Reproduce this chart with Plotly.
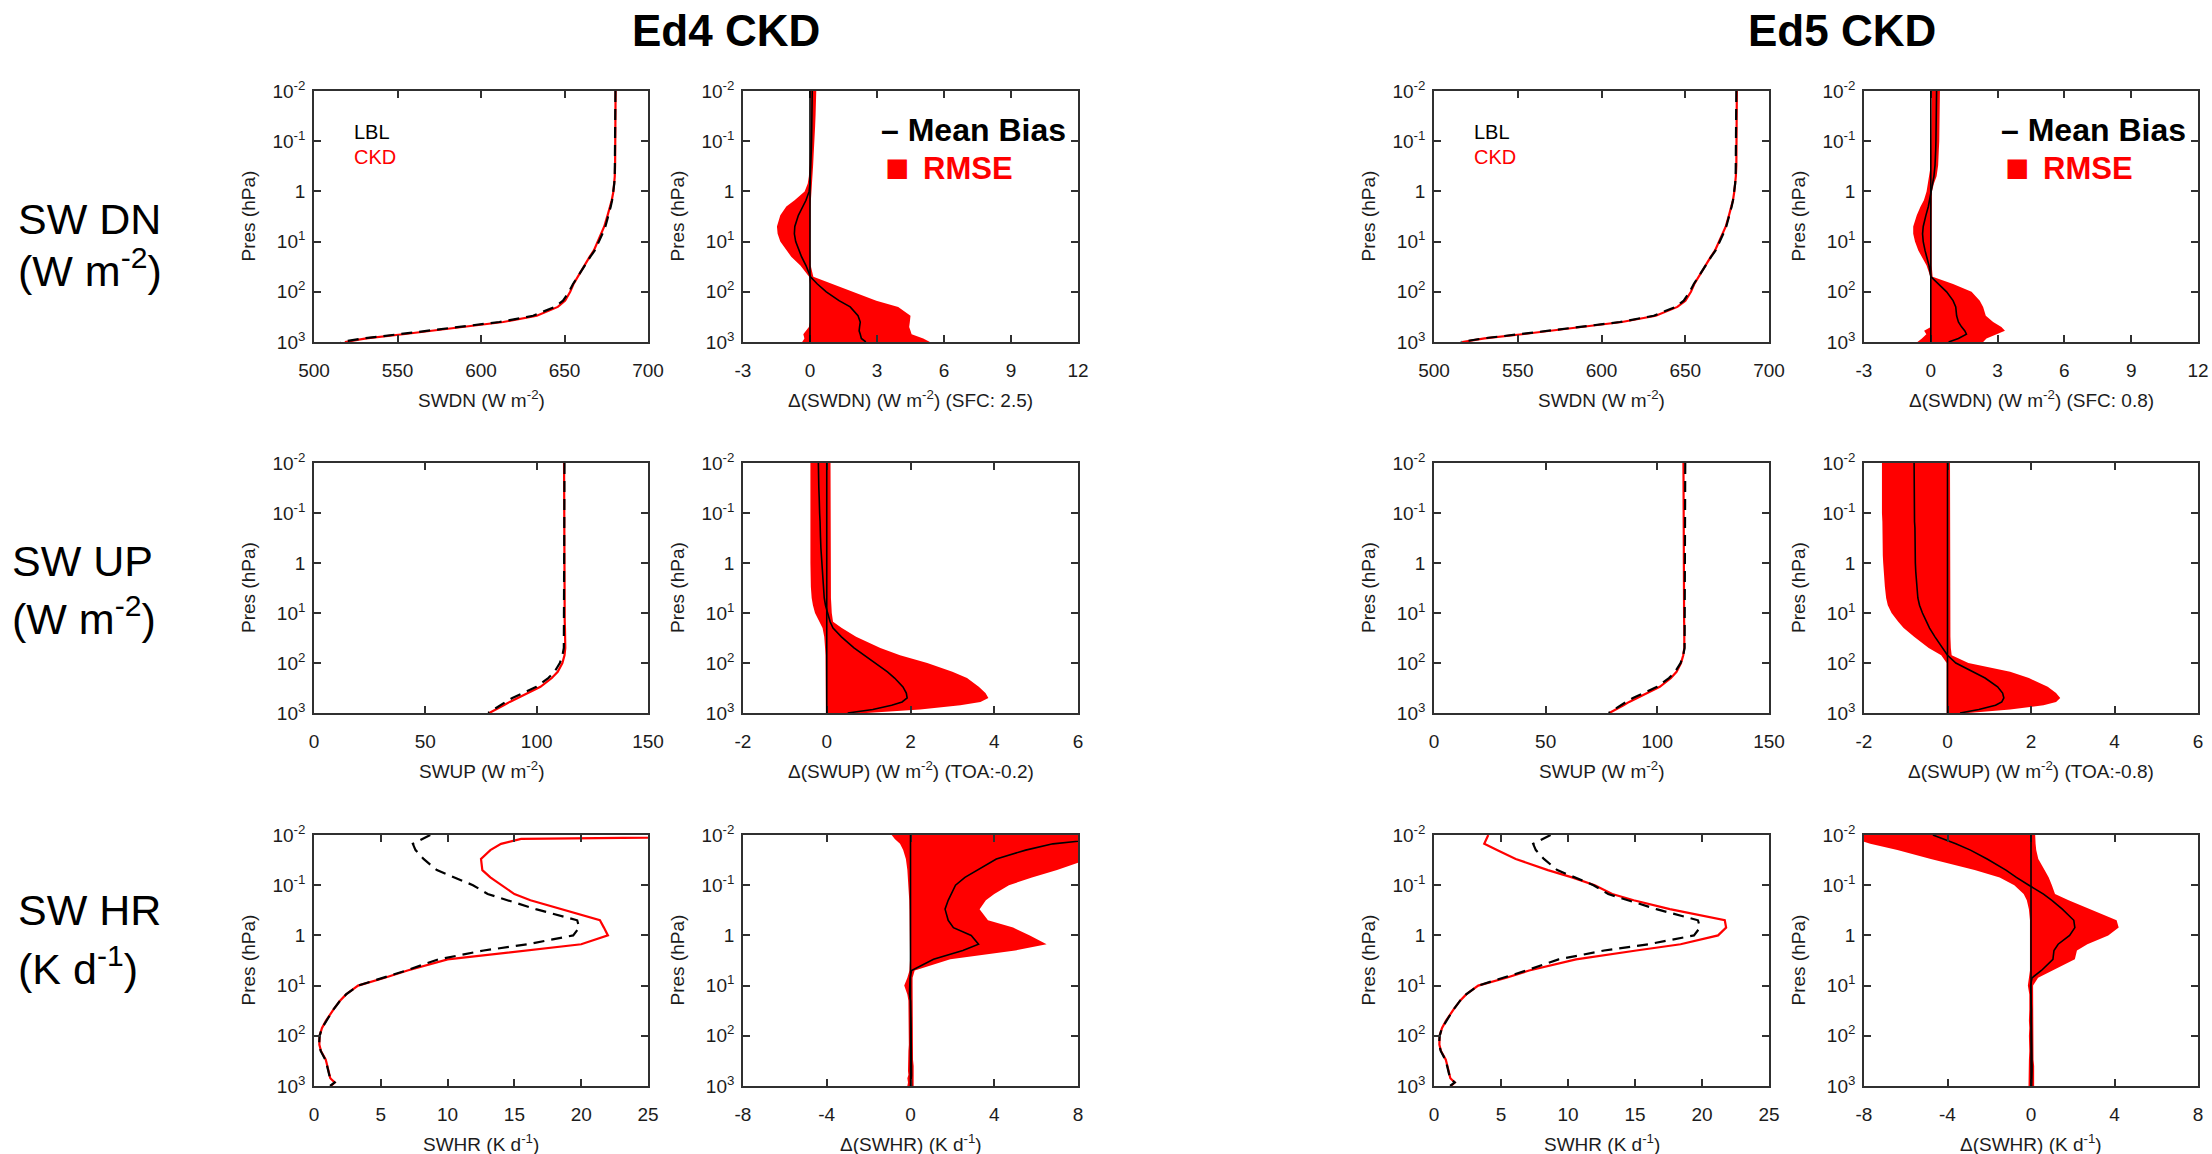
import plotly.graph_objects as go

W, H = 2212, 1154
FONT = "Liberation Sans, Arial, Helvetica, sans-serif"
RED = "#ff0000"
INK = "#1c1c1c"
FRAME = "#303030"

# pressure levels (hPa), top of atmosphere -> surface
pres = [0.01, 0.012, 0.015, 0.02, 0.03, 0.05, 0.07, 0.1, 0.15, 0.2, 0.3, 0.5, 0.7,
        1, 1.5, 2, 3, 5, 7, 10, 15, 20, 30, 50, 70, 100, 150, 200, 300, 400, 500,
        600, 700, 850, 1000]

# ---------------- SW downward flux (W m-2) ----------------
swdn_lbl = [680.5, 680.5, 680.5, 680.5, 680.5, 680.5, 680.5, 680.5, 680.4, 680.4, 680.3,
            680.1, 679.8, 679.3, 678.5, 677.7, 676.3, 674.5, 672.7, 670.7, 668.1, 665.5,
            662.1, 658.1, 655.1, 652.7, 649.1, 644.2, 631.2, 611.0, 588.0, 567.0, 551.0,
            529.0, 516.0]
swdn_ckd_ed4 = [680.6, 680.6, 680.6, 680.6, 680.6, 680.6, 680.6, 680.6, 680.5, 680.5, 680.3,
                680.1, 679.8, 679.3, 678.3, 677.4, 675.8, 673.8, 672.0, 670.1, 667.6, 665.1,
                661.9, 658.1, 655.4, 653.4, 650.4, 646.0, 633.4, 613.3, 590.2, 569.2, 553.3,
                531.3, 518.5]
swdn_ckd_ed5 = [680.8, 680.8, 680.8, 680.8, 680.8, 680.7, 680.7, 680.7, 680.6, 680.6, 680.5,
                680.2, 679.9, 679.3, 678.5, 677.6, 676.1, 674.2, 672.3, 670.4, 667.8, 665.3,
                662.0, 658.1, 655.4, 653.4, 650.1, 645.3, 632.4, 612.2, 589.4, 568.5, 552.6,
                530.2, 516.8]
dswdn_bias_ed4 = [0.1, 0.1, 0.1, 0.1, 0.1, 0.09, 0.08, 0.07, 0.06, 0.05, 0.04, 0.02, 0.0,
                  -0.04, -0.18, -0.32, -0.52, -0.68, -0.7, -0.64, -0.5, -0.38, -0.18, 0.02,
                  0.33, 0.73, 1.3, 1.8, 2.15, 2.25, 2.22, 2.2, 2.25, 2.3, 2.5]
dswdn_lo_ed4 = [0.03, 0.03, 0.03, 0.03, 0.03, 0.03, 0.02, 0.02, 0.01, 0.0, -0.02, -0.05, -0.1,
                -0.24, -0.69, -1.06, -1.33, -1.48, -1.45, -1.33, -1.06, -0.84, -0.43, -0.04,
                0.0, 0.0, 0.0, 0.0, 0.0, 0.0, -0.05, -0.2, -0.3, -0.25, -0.35]
dswdn_hi_ed4 = [0.28, 0.28, 0.27, 0.26, 0.25, 0.23, 0.22, 0.2, 0.18, 0.16, 0.14, 0.1, 0.07,
                0.05, 0.04, 0.03, 0.02, 0.02, 0.02, 0.02, 0.02, 0.02, 0.03, 0.15,
                1.03, 1.93, 2.97, 3.95, 4.5, 4.47, 4.44, 4.5, 4.55, 5.07, 5.37]
dswdn_bias_ed5 = [0.26, 0.26, 0.26, 0.25, 0.25, 0.24, 0.24, 0.23, 0.22, 0.21, 0.19, 0.14, 0.08,
                  0.04, -0.04, -0.11, -0.22, -0.34, -0.37, -0.34, -0.26, -0.19, -0.08, 0.0,
                  0.33, 0.71, 1.0, 1.12, 1.16, 1.24, 1.38, 1.53, 1.6, 1.24, 0.8]
dswdn_lo_ed5 = [0.04, 0.04, 0.04, 0.04, 0.04, 0.03, 0.02, 0.02, 0.01, 0.01, 0.0, -0.07, -0.13,
                -0.19, -0.31, -0.46, -0.63, -0.79, -0.79, -0.71, -0.56, -0.41, -0.19, -0.02,
                0.0, 0.0, 0.0, 0.0, 0.0, 0.0, 0.0, -0.3, -0.2, -0.4, -0.6]
dswdn_hi_ed5 = [0.41, 0.41, 0.41, 0.4, 0.4, 0.39, 0.39, 0.38, 0.36, 0.35, 0.33, 0.26, 0.14,
                0.05, 0.04, 0.04, 0.04, 0.04, 0.04, 0.04, 0.04, 0.04, 0.04, 0.08,
                1.0, 1.83, 2.2, 2.35, 2.47, 2.8, 3.17, 3.33, 2.95, 2.5, 2.35]

# ---------------- SW upward flux (W m-2) ----------------
swup_lbl = [112.5] * 22 + [112.45, 112.2, 111.6, 110.4, 108.0, 105.2, 99.9, 93.9, 89.1,
                           86.1, 83.7, 80.7, 78.2]
swup_ckd_ed4 = [112.3] * 14 + [112.4] * 5 + [112.5, 112.6, 112.7, 112.8, 112.85, 112.5,
                                            111.55, 109.45, 106.8, 101.7, 95.8, 91.0,
                                            87.9, 85.2, 81.7, 78.7]
swup_ckd_ed5 = [111.7] * 14 + [111.75] * 3 + [111.8, 111.85, 111.9, 112.0, 112.07, 112.15,
                                             112.08, 111.6, 110.6, 108.6, 106.1, 101.1,
                                             95.2, 90.45, 87.4, 84.85, 81.45, 78.5]
dswup_bias_ed4 = [-0.2, -0.2, -0.2, -0.19, -0.19, -0.18, -0.18, -0.17, -0.16, -0.16, -0.15,
                  -0.14, -0.13, -0.12, -0.11, -0.1, -0.08, -0.06, -0.03, 0.02, 0.08, 0.15,
                  0.35, 0.65, 0.9, 1.15, 1.45, 1.62, 1.82, 1.9, 1.92, 1.8, 1.55, 1.1, 0.5]
dswup_lo_ed4 = [-0.39] * 16 + [-0.38, -0.36, -0.33, -0.28, -0.18, -0.1, -0.06, -0.04,
                               -0.03] + [-0.02] * 10
dswup_hi_ed4 = [0.09] * 13 + [0.1] * 5 + [0.11, 0.12, 0.15, 0.36, 0.7, 1.28, 1.75, 2.4, 3.0,
                                          3.35, 3.63, 3.79, 3.86, 3.67, 3.19, 2.23, 0.95]
dswup_bias_ed5 = [-0.8] * 6 + [-0.79] * 3 + [-0.78] * 3 + [-0.77] * 2 + [
    -0.76, -0.75, -0.74, -0.71, -0.67, -0.6, -0.5, -0.43, -0.3, -0.12, 0.0, 0.2, 0.62, 0.9,
    1.2, 1.32, 1.35, 1.3, 1.15, 0.75, 0.3]
dswup_lo_ed5 = [-1.57] * 8 + [-1.56] * 3 + [-1.55] * 2 + [
    -1.54, -1.53, -1.52, -1.5, -1.47, -1.43, -1.34, -1.18, -1.05, -0.8, -0.45, -0.15] + [-0.02] * 10
dswup_hi_ed5 = [0.06] * 21 + [0.07, 0.07, 0.08, 0.1, 0.5, 1.5, 1.95, 2.4, 2.6, 2.7, 2.6, 2.3,
                              1.5, 0.5]

# ---------------- SW heating rate (K d-1) ----------------
swhr_lbl = [8.7, 8.1, 7.4, 7.6, 8.2, 9.2, 10.5, 11.9, 13.0, 14.5, 16.6, 19.7, 19.85, 19.4,
            16.0, 12.7, 9.3, 6.9, 5.2, 3.3, 2.4, 1.95, 1.45, 0.9, 0.6, 0.42, 0.38, 0.5, 0.85,
            0.98, 1.05, 1.15, 1.2, 1.55, 1.2]
swhr_ckd_ed4 = [45.0, 15.5, 14.0, 13.2, 12.5, 12.6, 13.2, 14.0, 15.0, 16.2, 18.5, 21.4, 21.7,
                22.0, 20.0, 16.0, 10.0, 7.0, 5.3, 3.3, 2.4, 1.95, 1.45, 0.9, 0.6, 0.42, 0.4,
                0.52, 0.88, 1.0, 1.08, 1.18, 1.22, 1.55, 1.25]
swhr_ckd_ed5 = [4.05, 3.9, 3.75, 4.7, 6.1, 8.5, 10.3, 12.0, 13.3, 14.9, 17.6, 21.7, 21.8,
                21.2, 18.4, 15.1, 10.6, 7.1, 5.4, 3.3, 2.4, 1.95, 1.45, 0.9, 0.6, 0.42, 0.4,
                0.52, 0.88, 1.0, 1.08, 1.18, 1.22, 1.55, 1.25]
dswhr_bias_ed4 = [20.0, 9.0, 6.8, 5.5, 4.1, 3.2, 2.6, 2.15, 1.95, 1.8, 1.65, 1.8, 2.05, 2.9,
                  3.25, 2.5, 1.1, 0.05, -0.02, -0.05, -0.05, 0.0, 0.02, 0.03, 0.03, 0.03,
                  0.04, 0.04, 0.05, 0.06, 0.05, 0.05, 0.04, 0.05, 0.05]
dswhr_lo_ed4 = [-0.9, -0.75, -0.5, -0.35, -0.22, -0.15, -0.12, -0.1, -0.08, -0.06, -0.05,
                -0.03, -0.02, -0.02, -0.02, -0.02, -0.02, -0.05, -0.15, -0.3, -0.15, -0.1,
                -0.08, -0.08, -0.1, -0.08, -0.08, -0.1, -0.1, -0.12, -0.12, -0.1, -0.15,
                -0.12, -0.15]
dswhr_hi_ed4 = [40.0, 30.0, 20.0, 14.0, 8.5, 7.0, 5.8, 4.7, 4.0, 3.6, 3.3, 3.7, 4.9, 5.7,
                6.5, 5.0, 1.9, 0.2, 0.1, 0.1, 0.1, 0.1, 0.1, 0.1, 0.1, 0.1, 0.12, 0.12, 0.12,
                0.15, 0.15, 0.15, 0.12, 0.12, 0.15]
dswhr_bias_ed5 = [-4.7, -4.2, -3.6, -2.9, -2.1, -1.2, -0.7, -0.1, 0.6, 1.0, 1.5, 2.05, 2.1,
                  1.85, 1.3, 1.1, 1.05, 0.5, 0.05, -0.02, 0.0, 0.02, 0.02, 0.02, 0.03, 0.03,
                  0.03, 0.04, 0.04, 0.05, 0.05, 0.04, 0.04, 0.03, 0.03]
dswhr_lo_ed5 = [-9.0, -8.5, -7.7, -6.4, -4.8, -2.7, -1.5, -0.8, -0.35, -0.2, -0.1, -0.05,
                -0.05, -0.05, -0.05, -0.05, -0.05, -0.05, -0.1, -0.15, -0.08, -0.08, -0.08,
                -0.1, -0.08, -0.1, -0.1, -0.08, -0.1, -0.1, -0.12, -0.1, -0.12, -0.12, -0.12]
dswhr_hi_ed5 = [0.2, 0.2, 0.22, 0.25, 0.35, 0.65, 0.85, 1.0, 1.15, 1.8, 2.8, 4.1, 4.2, 3.7,
                2.7, 2.2, 2.1, 1.08, 0.34, 0.1, 0.1, 0.1, 0.1, 0.1, 0.1, 0.12, 0.12, 0.12,
                0.12, 0.15, 0.15, 0.15, 0.12, 0.15, 0.15]

# ---------------- axis ticks ----------------
pres_tickvals = [0.01, 0.1, 1, 10, 100, 1000]
pres_ticktext = ["10<sup>-2</sup>", "10<sup>-1</sup>", "1", "10<sup>1</sup>",
                 "10<sup>2</sup>", "10<sup>3</sup>"]
swdn_ticks = [500, 550, 600, 650, 700]
dswdn_ticks = [-3, 0, 3, 6, 9, 12]
swup_ticks = [0, 50, 100, 150]
dswup_ticks = [-2, 0, 2, 4, 6]
swhr_ticks = [0, 5, 10, 15, 20, 25]
dswhr_ticks = [-8, -4, 0, 4, 8]

# ---------------- panel frames (pixels) ----------------
col_px = [(314, 648), (743, 1078), (1434, 1769), (1864, 2198)]
row_px = [(91, 342), (463, 713), (835, 1086)]

rows = [
    dict(name="SW DN", unit="(W m<sup>-2</sup>)", abs_title="SWDN (W m<sup>-2</sup>)",
         d_title="Δ(SWDN) (W m<sup>-2</sup>)", abs_ticks=swdn_ticks, d_ticks=dswdn_ticks,
         lbl=swdn_lbl),
    dict(name="SW UP", unit="(W m<sup>-2</sup>)", abs_title="SWUP (W m<sup>-2</sup>)",
         d_title="Δ(SWUP) (W m<sup>-2</sup>)", abs_ticks=swup_ticks, d_ticks=dswup_ticks,
         lbl=swup_lbl),
    dict(name="SW HR", unit="(K d<sup>-1</sup>)", abs_title="SWHR (K d<sup>-1</sup>)",
         d_title="Δ(SWHR) (K d<sup>-1</sup>)", abs_ticks=swhr_ticks, d_ticks=dswhr_ticks,
         lbl=swhr_lbl),
]

editions = [
    dict(title="Ed4 CKD", title_x=726, cols=(0, 1),
         ckd=[swdn_ckd_ed4, swup_ckd_ed4, swhr_ckd_ed4],
         bias=[dswdn_bias_ed4, dswup_bias_ed4, dswhr_bias_ed4],
         lo=[dswdn_lo_ed4, dswup_lo_ed4, dswhr_lo_ed4],
         hi=[dswdn_hi_ed4, dswup_hi_ed4, dswhr_hi_ed4]),
    dict(title="Ed5 CKD", title_x=1842, cols=(2, 3),
         ckd=[swdn_ckd_ed5, swup_ckd_ed5, swhr_ckd_ed5],
         bias=[dswdn_bias_ed5, dswup_bias_ed5, dswhr_bias_ed5],
         lo=[dswdn_lo_ed5, dswup_lo_ed5, dswhr_lo_ed5],
         hi=[dswdn_hi_ed5, dswup_hi_ed5, dswhr_hi_ed5]),
]

axis_style = dict(showline=True, linecolor=FRAME, linewidth=1.6, mirror="ticks",
                  ticks="inside", ticklen=7, tickwidth=1.6, tickcolor=FRAME,
                  showgrid=False, zeroline=False, automargin=False,
                  tickfont=dict(family=FONT, size=19, color=INK))

fig = go.Figure()
layout = {}
annotations = []
shapes = []


def fx(px):
    return px / W


def fy(py):
    return 1 - py / H


def text(x, y, s, size=19, color=INK, bold=False, angle=0, xanchor="center"):
    if bold:
        s = f"<b>{s}</b>"
    annotations.append(dict(x=fx(x), y=fy(y), xref="paper", yref="paper", text=s,
                            showarrow=False, textangle=angle, xanchor=xanchor,
                            yanchor="middle", borderpad=0,
                            font=dict(family=FONT, size=size, color=color)))


def make_axes(n, col, row, ticks, xtitle):
    x0, x1 = col_px[col]
    y0, y1 = row_px[row]
    xkey = "xaxis" if n == 1 else f"xaxis{n}"
    ykey = "yaxis" if n == 1 else f"yaxis{n}"
    xref = "x" if n == 1 else f"x{n}"
    yref = "y" if n == 1 else f"y{n}"
    layout[xkey] = dict(domain=[fx(x0), fx(x1)], anchor=yref,
                        range=[ticks[0], ticks[-1]], tickmode="array", tickvals=ticks,
                        ticktext=[str(t) for t in ticks], ticklabelstandoff=10, **axis_style)
    layout[ykey] = dict(domain=[fy(y1), fy(y0)], anchor=xref, type="log", range=[3, -2],
                        tickmode="array", tickvals=pres_tickvals, ticktext=pres_ticktext,
                        ticklabelstandoff=3, **axis_style)
    text((x0 + x1) / 2, y1 + 57, xtitle)
    text(x0 - 66, (y0 + y1) / 2, "Pres (hPa)", angle=-90)
    return xref, yref


n = 0
for ed in editions:
    ca, cd = ed["cols"]
    for r, row in enumerate(rows):
        # absolute profiles: CKD (red) and LBL reference (dashed black)
        n += 1
        xr, yr = make_axes(n, ca, r, row["abs_ticks"], row["abs_title"])
        fig.add_trace(go.Scatter(x=ed["ckd"][r], y=pres, xaxis=xr, yaxis=yr, mode="lines",
                                 line=dict(color=RED, width=2.2), showlegend=False,
                                 hoverinfo="skip"))
        fig.add_trace(go.Scatter(x=row["lbl"], y=pres, xaxis=xr, yaxis=yr, mode="lines",
                                 line=dict(color="black", width=2.2, dash="11px,7px"),
                                 showlegend=False, hoverinfo="skip"))

        # differences: RMSE envelope + mean bias
        n += 1
        bias = ed["bias"][r]
        title = row["d_title"]
        if r == 0:
            title += f" (SFC: {bias[-1]:.1f})"
        elif r == 1:
            title += f" (TOA:{bias[0]:.1f})"
        xr, yr = make_axes(n, cd, r, row["d_ticks"], title)
        lo, hi = ed["lo"][r], ed["hi"][r]
        fig.add_trace(go.Scatter(x=hi + lo[::-1], y=pres + pres[::-1], xaxis=xr, yaxis=yr,
                                 mode="lines", fill="toself", fillcolor=RED,
                                 line=dict(width=0, color=RED), showlegend=False,
                                 hoverinfo="skip"))
        fig.add_trace(go.Scatter(x=bias, y=pres, xaxis=xr, yaxis=yr, mode="lines",
                                 line=dict(color="black", width=1.6), showlegend=False,
                                 hoverinfo="skip"))
        shapes.append(dict(type="line", xref=xr, yref=f"{yr} domain", x0=0, x1=0, y0=0,
                           y1=1, line=dict(color="black", width=1.6), layer="above"))

    # in-panel keys
    la = col_px[ca][0]
    top = row_px[0][0]
    text(la + 39, top + 41, "LBL", size=20, color="black", xanchor="left")
    text(la + 39, top + 66, "CKD", size=20, color=RED, xanchor="left")
    rd = col_px[cd][1]
    text(rd - 11, top + 39, "– Mean Bias", size=32, color="black", bold=True, xanchor="right")
    text(rd - 181, top + 76, "■", size=40, color=RED, bold=True)
    text(rd - 156, top + 77, "RMSE", size=31, color=RED, bold=True, xanchor="left")

    # column heading
    text(ed["title_x"], 31, ed["title"], size=44, color="black", bold=True)

# row headings
row_label_y = [(219, 268), (561, 616), (910, 966)]
row_label_x = [17, 11, 17]
for row, (ya, yb), xl in zip(rows, row_label_y, row_label_x):
    text(xl, ya, row["name"], size=43, color="black", xanchor="left")
    text(xl, yb, row["unit"], size=43, color="black", xanchor="left")

layout.update(width=W, height=H, autosize=False,
              margin=dict(l=0, r=0, t=0, b=0, pad=0, autoexpand=False),
              paper_bgcolor="white", plot_bgcolor="white",
              annotations=annotations, shapes=shapes, showlegend=False)
fig.update_layout(**layout)
# let the figure fill the page edge to edge
fig.write_html("out.html",
               post_script="document.body.style.margin='0px';"
                           "document.body.style.overflow='hidden';")
